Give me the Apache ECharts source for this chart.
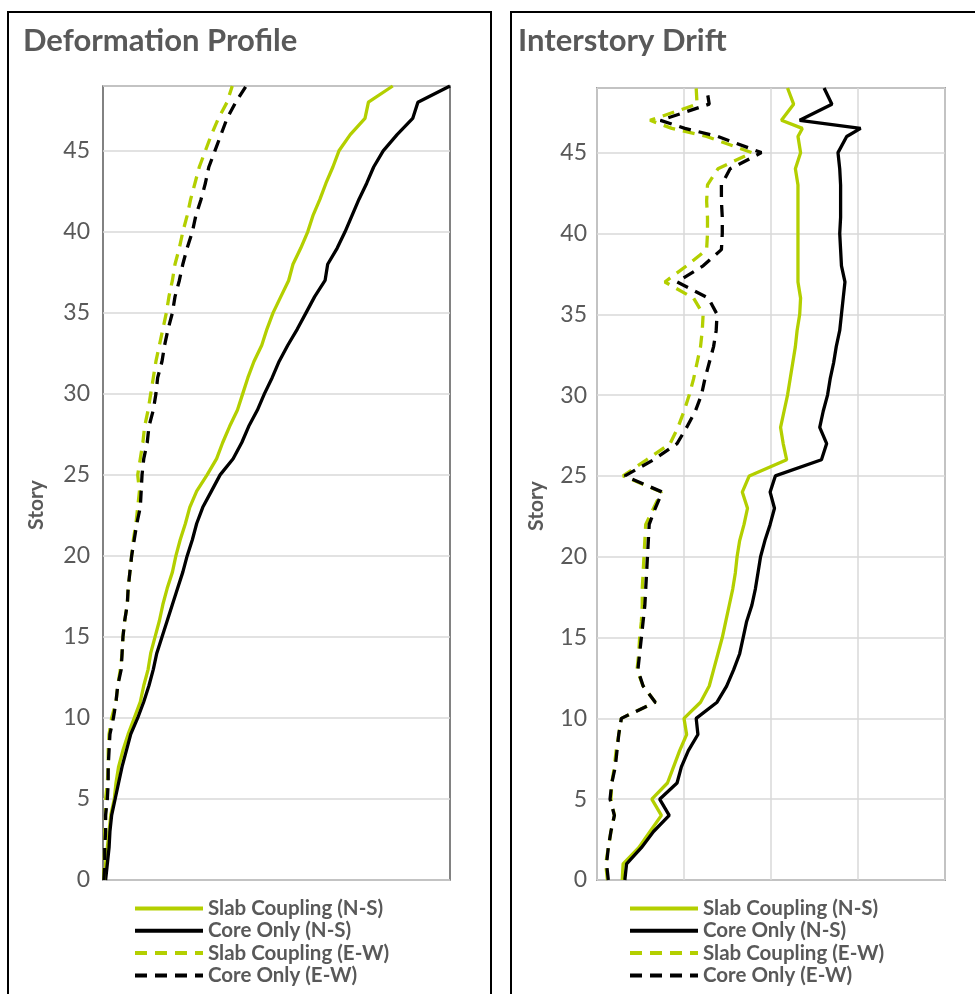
<!DOCTYPE html>
<html>
<head>
<meta charset="utf-8">
<script src="https://cdn.jsdelivr.net/npm/echarts@6/dist/echarts.min.js"></script>
<style>
  html, body { margin: 0; padding: 0; background: #fff; }
  #chart { width: 975px; height: 994px; }
</style>
</head>
<body>
<div id="chart"></div>
<script>
// story levels
const stories = [0, 1, 2, 3, 4, 5, 6, 7, 8, 9, 10, 11, 12, 13, 14, 15, 16, 17, 18, 19, 20,
  21, 22, 23, 24, 25, 26, 27, 28, 29, 30, 31, 32, 33, 34, 35, 36, 37, 38, 39, 40,
  41, 42, 43, 44, 45, 46, 47, 48, 49]
// drift plot has an extra level between 46 and 47
const driftStories = [0, 1, 2, 3, 4, 5, 6, 7, 8, 9, 10, 11, 12, 13, 14, 15, 16, 17, 18, 19, 20,
  21, 22, 23, 24, 25, 26, 27, 28, 29, 30, 31, 32, 33, 34, 35, 36, 37, 38, 39, 40,
  41, 42, 43, 44, 45, 46, 46.5, 47, 48, 49]

const names = ['Slab Coupling (N-S)', 'Core Only (N-S)', 'Slab Coupling (E-W)', 'Core Only (E-W)']
const yTicks = [0, 5, 10, 15, 20, 25, 30, 35, 40, 45]

// deformation profile (arbitrary units, axis 0-40)
const defSlabNS = [0.2, 0.3, 0.5, 0.7, 0.9, 1.3, 1.5, 1.8, 2.3, 2.9, 3.6, 4.3, 4.7, 5.2, 5.5, 6.0, 6.5, 6.9, 7.4, 8.0,
  8.4, 8.9, 9.5, 10.0, 10.8, 12.0, 13.1, 13.8, 14.6, 15.5, 16.1, 16.7, 17.4, 18.3, 18.9, 19.6, 20.5, 21.4, 21.9, 22.8,
  23.6, 24.2, 25.0, 25.7, 26.5, 27.2, 28.5, 30.2, 30.6, 33.4]
const defCoreNS = [0.3, 0.5, 0.7, 0.8, 1.0, 1.4, 1.8, 2.2, 2.7, 3.2, 4.0, 4.7, 5.3, 5.8, 6.2, 6.8, 7.4, 8.0, 8.6, 9.2,
  9.7, 10.3, 10.8, 11.5, 12.5, 13.5, 15.0, 16.0, 16.8, 17.8, 18.6, 19.5, 20.3, 21.3, 22.4, 23.4, 24.4, 25.6, 25.9, 27.0,
  27.9, 28.7, 29.5, 30.4, 31.2, 32.3, 33.9, 35.7, 36.3, 40.0]
const defSlabEW = [0.1, 0.1, 0.2, 0.2, 0.3, 0.3, 0.5, 0.6, 0.6, 0.7, 1.0, 1.5, 1.7, 2.0, 2.2, 2.3, 2.5, 2.8, 2.9, 3.1,
  3.3, 3.5, 3.8, 4.0, 4.2, 4.0, 4.3, 4.6, 4.8, 5.2, 5.5, 5.8, 6.1, 6.5, 6.9, 7.3, 7.6, 8.0, 8.3, 8.8,
  9.2, 9.7, 10.1, 10.6, 11.1, 11.8, 12.5, 13.3, 14.3, 14.9]
const defCoreEW = [0.1, 0.2, 0.2, 0.3, 0.3, 0.5, 0.6, 0.6, 0.7, 0.8, 1.2, 1.5, 1.7, 2.1, 2.2, 2.3, 2.5, 2.8, 2.9, 3.1,
  3.3, 3.6, 3.9, 4.3, 4.4, 4.5, 4.7, 5.1, 5.3, 5.8, 6.1, 6.3, 6.8, 7.1, 7.5, 8.0, 8.3, 8.8, 9.2, 9.7,
  10.3, 10.7, 11.3, 11.8, 12.2, 12.9, 13.6, 14.3, 15.3, 16.5]

// interstory drift (arbitrary units, axis 0-4)
const driftSlabNS = [0.29, 0.30, 0.48, 0.61, 0.74, 0.63, 0.81, 0.88, 0.95, 1.03, 1.00, 1.19, 1.29, 1.34, 1.39, 1.44, 1.48,
  1.52, 1.56, 1.59, 1.61, 1.64, 1.69, 1.73, 1.67, 1.75, 2.18, 2.14, 2.11, 2.15, 2.19, 2.22, 2.25, 2.28, 2.30, 2.33,
  2.34, 2.31, 2.31, 2.31, 2.31, 2.31, 2.31, 2.31, 2.28, 2.34, 2.31, 2.36, 2.12, 2.26, 2.19]
const driftCoreNS = [0.32, 0.34, 0.51, 0.65, 0.83, 0.72, 0.92, 0.97, 1.05, 1.16, 1.14, 1.38, 1.49, 1.57, 1.64, 1.68, 1.72,
  1.78, 1.82, 1.85, 1.88, 1.93, 1.99, 2.04, 1.99, 2.05, 2.58, 2.64, 2.56, 2.60, 2.65, 2.68, 2.72, 2.75, 2.79, 2.81,
  2.83, 2.85, 2.81, 2.80, 2.79, 2.80, 2.80, 2.80, 2.79, 2.77, 2.87, 3.03, 2.33, 2.70, 2.61]
const driftSlabEW = [0.12, 0.10, 0.13, 0.16, 0.20, 0.16, 0.17, 0.20, 0.22, 0.25, 0.28, 0.67, 0.53, 0.46, 0.48, 0.49, 0.51,
  0.52, 0.52, 0.53, 0.54, 0.55, 0.56, 0.65, 0.74, 0.30, 0.57, 0.84, 0.93, 1.00, 1.06, 1.11, 1.15, 1.19, 1.21, 1.22,
  1.11, 0.78, 1.03, 1.26, 1.27, 1.27, 1.26, 1.27, 1.39, 1.78, 1.26, 0.86, 0.61, 1.15, 1.14]
const driftCoreEW = [0.13, 0.11, 0.13, 0.16, 0.20, 0.15, 0.17, 0.21, 0.23, 0.25, 0.28, 0.67, 0.53, 0.47, 0.49, 0.51, 0.53,
  0.55, 0.56, 0.57, 0.58, 0.59, 0.60, 0.67, 0.75, 0.32, 0.65, 0.92, 1.03, 1.13, 1.20, 1.24, 1.29, 1.34, 1.37, 1.38,
  1.28, 0.92, 1.22, 1.43, 1.44, 1.44, 1.43, 1.43, 1.53, 1.89, 1.39, 1.01, 0.73, 1.29, 1.26]

const GREEN = '#b3cf00'
const GRAY = '#595959'
const FONT = 'Lato'

const pairs = (vals, levels) => vals.map((v, i) => [v, levels[i]])

const mkLine = (name, vals, levels, idx, color, dashed) => ({
  name,
  type: 'line',
  xAxisIndex: idx,
  yAxisIndex: idx,
  data: pairs(vals, levels),
  symbol: 'none',
  showSymbol: false,
  animation: false,
  lineStyle: { color, width: 3.3, type: dashed ? [12, 8] : 'solid' },
  itemStyle: { color }
})

const mkYAxis = (idx, gap, margin) => ({
  type: 'value',
  gridIndex: idx,
  min: 0,
  max: 49,
  interval: 5,
  name: 'Story',
  nameLocation: 'middle',
  nameRotate: 90,
  nameGap: gap,
  nameTextStyle: { fontFamily: FONT, fontWeight: 'bold', fontSize: 21, color: GRAY, padding: [0, 44, 0, 0] },
  axisLine: { show: false },
  axisTick: { show: false },
  axisLabel: {
    showMaxLabel: false,
    margin,
    fontFamily: FONT,
    fontSize: 23,
    color: GRAY,
    formatter: (v) => (yTicks.includes(v) ? String(v) : '')
  },
  splitLine: { show: true, lineStyle: { color: '#d9d9d9', width: 1.5 } }
})

const mkLegend = (left) => ({
  orient: 'vertical',
  left,
  top: 893,
  itemWidth: 68,
  itemHeight: 12,
  itemGap: 1.3,
  selectedMode: false,
  itemStyle: { opacity: 0 },
  lineStyle: { width: 4 },
  textStyle: { fontFamily: FONT, fontWeight: 'bold', fontSize: 20.5, color: GRAY },
  data: names
})

const chart = echarts.init(document.getElementById('chart'))

chart.setOption({
  backgroundColor: '#fff',
  animation: false,
  title: [
    { text: 'Deformation Profile', left: 18, top: 20,
      textStyle: { fontFamily: FONT, fontWeight: 'bold', fontSize: 31, color: GRAY } },
    { text: 'Interstory Drift', left: 513, top: 20,
      textStyle: { fontFamily: FONT, fontWeight: 'bold', fontSize: 31, color: GRAY } }
  ],
  graphic: [
    { type: 'rect', shape: { x: 8, y: 12, width: 483, height: 1000 },
      style: { fill: 'none', stroke: '#000', lineWidth: 2 }, z: 100 },
    { type: 'rect', shape: { x: 511, y: 12, width: 480, height: 1000 },
      style: { fill: 'none', stroke: '#000', lineWidth: 2 }, z: 100 }
  ],
  legend: [mkLegend(128), mkLegend(623)],
  grid: [
    { left: 103, right: 525, top: 86, bottom: 114, show: true, borderColor: GRAY, borderWidth: 1.5, backgroundColor: 'transparent' },
    { left: 597, right: 30, top: 88, bottom: 114, show: true, borderColor: GRAY, borderWidth: 1.5, backgroundColor: 'transparent' }
  ],
  xAxis: [
    { type: 'value', gridIndex: 0, min: 0, max: 40,
      axisLine: { show: false }, axisTick: { show: false }, axisLabel: { show: false }, splitLine: { show: false } },
    { type: 'value', gridIndex: 1, min: 0, max: 4, interval: 1,
      axisLine: { show: false }, axisTick: { show: false }, axisLabel: { show: false },
      splitLine: { show: true, lineStyle: { color: '#d9d9d9', width: 1.5 } } }
  ],
  yAxis: [mkYAxis(0, 56, 13), mkYAxis(1, 50, 10)],
  series: [
    mkLine(names[0], defSlabNS, stories, 0, GREEN, false),
    mkLine(names[1], defCoreNS, stories, 0, '#000', false),
    mkLine(names[2], defSlabEW, stories, 0, GREEN, true),
    mkLine(names[3], defCoreEW, stories, 0, '#000', true),
    mkLine(names[0], driftSlabNS, driftStories, 1, GREEN, false),
    mkLine(names[1], driftCoreNS, driftStories, 1, '#000', false),
    mkLine(names[2], driftSlabEW, driftStories, 1, GREEN, true),
    mkLine(names[3], driftCoreEW, driftStories, 1, '#000', true)
  ]
})
</script>
</body>
</html>
